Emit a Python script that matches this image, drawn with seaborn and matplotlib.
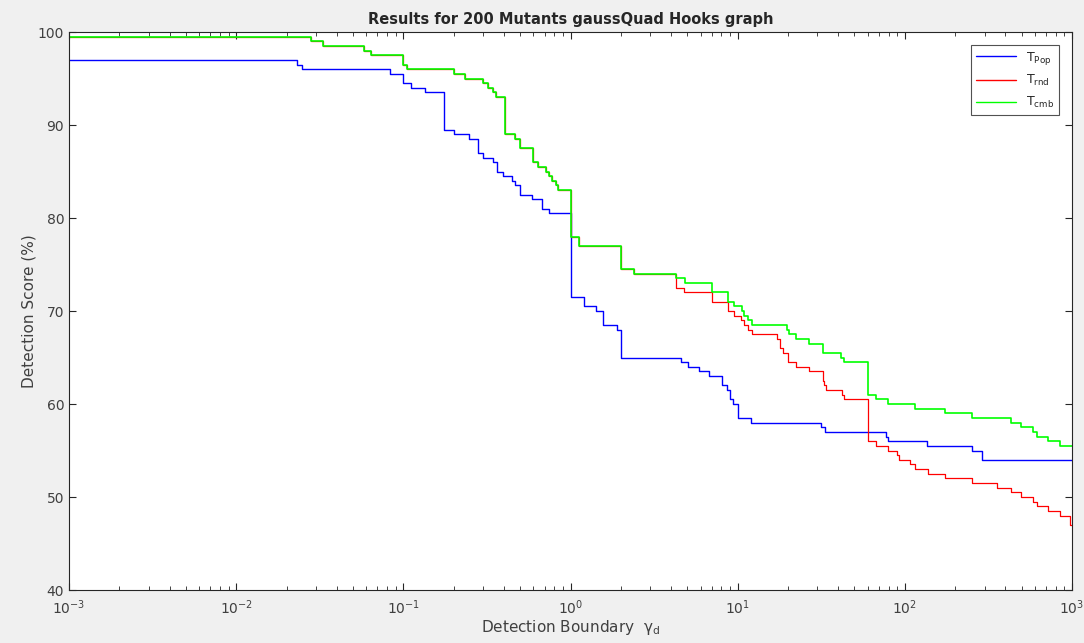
import matplotlib
matplotlib.use("Agg")
import matplotlib.pyplot as plt
from matplotlib.ticker import NullFormatter, FixedLocator, LogFormatterMathtext
import seaborn as sns
import pandas as pd

# Detection score (%) versus detection boundary gamma_d, stepwise curves
pop_x = [0.001, 0.023, 0.0247, 0.083, 0.1, 0.111, 0.134, 0.176, 0.202, 0.247,
         0.281, 0.298, 0.343, 0.365, 0.396, 0.447, 0.468, 0.499, 0.589, 0.676,
         0.747, 1.0, 1.21, 1.43, 1.56, 1.89, 2.0, 4.56, 5.07, 5.89,
         6.74, 8.02, 8.6, 9.0, 9.42, 10.1, 12.1, 31.4, 33.4, 77.1,
         79.6, 135, 252, 288, 1000]
pop_y = [97, 96.5, 96, 95.5, 94.5, 94, 93.5, 89.5, 89, 88.5,
         87, 86.5, 86, 85, 84.5, 84, 83.5, 82.5, 82, 81,
         80.5, 71.5, 70.5, 70, 68.5, 68, 65, 64.5, 64, 63.5,
         63, 62, 61.5, 60.5, 60, 58.5, 58, 57.5, 57, 56.5,
         56, 55.5, 55, 54, 54]

cmb_x = [0.001, 0.0279, 0.033, 0.0585, 0.064, 0.1, 0.105, 0.202, 0.234, 0.301,
         0.320, 0.343, 0.358, 0.406, 0.466, 0.499, 0.599, 0.636, 0.713, 0.747,
         0.778, 0.819, 0.845, 1.0, 1.13, 2.0, 2.41, 4.27, 4.85, 7.0,
         8.79, 9.55, 10.6, 10.96, 11.5, 12.2, 19.8, 20.2, 22.2, 26.8,
         32.2, 41.3, 43.3, 60.4, 67.2, 78.9, 115.5, 175, 252, 432,
         493, 582, 621, 722, 851, 1000]
cmb_y = [99.5, 99, 98.5, 98, 97.5, 96.5, 96, 95.5, 95, 94.5,
         94, 93.5, 93, 89, 88.5, 87.5, 86, 85.5, 85, 84.5,
         84, 83.5, 83, 78, 77, 74.5, 74, 73.5, 73, 72,
         71, 70.5, 70, 69.5, 69, 68.5, 68, 67.5, 67, 66.5,
         65.5, 65, 64.5, 61, 60.5, 60, 59.5, 59, 58.5, 58,
         57.5, 57, 56.5, 56, 55.5, 55.5]

rnd_x = [0.001, 0.0279, 0.033, 0.0585, 0.064, 0.1, 0.105, 0.202, 0.234, 0.301,
         0.320, 0.343, 0.358, 0.406, 0.466, 0.499, 0.599, 0.636, 0.713, 0.747,
         0.778, 0.819, 0.845, 1.0, 1.13, 2.0, 2.41,
         4.27, 4.80, 7.0, 8.79, 9.55, 10.5, 10.96, 11.5, 12.2, 17.3,
         17.8, 18.8, 20.0, 22.2, 26.8, 32.2, 32.9, 33.8, 42.2, 43.3,
         60.4, 67.2, 78.9, 89.4, 92.7, 107, 115.5, 138, 175, 252,
         354, 432, 493, 582, 621, 722, 851, 973, 1000]
rnd_y = [99.5, 99, 98.5, 98, 97.5, 96.5, 96, 95.5, 95, 94.5,
         94, 93.5, 93, 89, 88.5, 87.5, 86, 85.5, 85, 84.5,
         84, 83.5, 83, 78, 77, 74.5, 74,
         72.5, 72, 71, 70, 69.5, 69, 68.5, 68, 67.5, 67,
         66, 65.5, 64.5, 64, 63.5, 62.5, 62, 61.5, 61, 60.5,
         56, 55.5, 55, 54.5, 54, 53.5, 53, 52.5, 52, 51.5,
         51, 50.5, 50, 49.5, 49, 48.5, 48, 47, 47]

series_labels = [r"T$_{\mathregular{Pop}}$", r"T$_{\mathregular{rnd}}$", r"T$_{\mathregular{cmb}}$"]
series_colors = ["#0000ff", "#ff0000", "#00ff00"]
series_widths = [1.0, 0.9, 1.2]
x_ticks = [1e-3, 1e-2, 1e-1, 1e0, 1e1, 1e2, 1e3]
y_ticks = [40, 50, 60, 70, 80, 90, 100]

sns.set_style("ticks")
plt.rcParams["font.family"] = ["DejaVu Sans"]
plt.rcParams.update({
    "xtick.direction": "in", "ytick.direction": "in",
    "xtick.top": True, "ytick.right": True,
    "xtick.color": "#262626", "ytick.color": "#262626",
    "xtick.labelcolor": "#404040", "ytick.labelcolor": "#404040",
    "mathtext.default": "regular",
})

fig = plt.figure(figsize=(10.84, 6.43), dpi=100, facecolor="#f0f0f0")
ax = fig.add_axes([0.0637, 0.0824, 0.9252, 0.8678])
ax.set_facecolor("white")

frames = [
    (pop_x, pop_y),
    (rnd_x, rnd_y),
    (cmb_x, cmb_y),
]
for (xs, ys), lab, col, lw in zip(frames, series_labels, series_colors, series_widths):
    df = pd.DataFrame({"gamma": xs, "score": ys})
    sns.lineplot(data=df, x="gamma", y="score", ax=ax, color=col, label=lab,
                 drawstyle="steps-post", estimator=None, sort=False,
                 linewidth=lw, snap=True)

ax.set_xscale("log")
ax.set_xlim(1e-3, 1e3)
ax.set_ylim(40, 100)
ax.yaxis.set_major_locator(FixedLocator(y_ticks))
ax.xaxis.set_major_locator(FixedLocator(x_ticks))
ax.xaxis.set_major_formatter(LogFormatterMathtext())
minor = [m * 10.0 ** e for e in range(-3, 3) for m in range(2, 10)]
ax.xaxis.set_minor_locator(FixedLocator(minor))
ax.xaxis.set_minor_formatter(NullFormatter())
ax.tick_params(which="major", length=5, width=0.8, labelsize=10)
ax.tick_params(which="minor", length=3, width=0.6)
ax.tick_params(axis="x", pad=6)

for sp in ax.spines.values():
    sp.set_color("#262626")
    sp.set_linewidth(0.8)

ax.set_title("Results for 200 Mutants gaussQuad Hooks graph",
             fontsize=10.5, fontweight="bold", pad=6)
ax.set_xlabel(r"Detection Boundary  $\gamma_{\mathregular{d}}$",
              fontsize=11, color="#404040", labelpad=1)
ax.set_ylabel("Detection Score (%)", fontsize=11, color="#404040", labelpad=1)

leg = ax.legend(loc="upper right", fontsize=9, frameon=True, fancybox=False,
                handlelength=3.2, borderaxespad=1.0, labelspacing=0.55)
leg.get_frame().set_edgecolor("#262626")
leg.get_frame().set_linewidth(0.8)
for h in leg.get_lines():
    h.set_linewidth(1.0)

fig.savefig("out.png", dpi=100, facecolor=fig.get_facecolor())
